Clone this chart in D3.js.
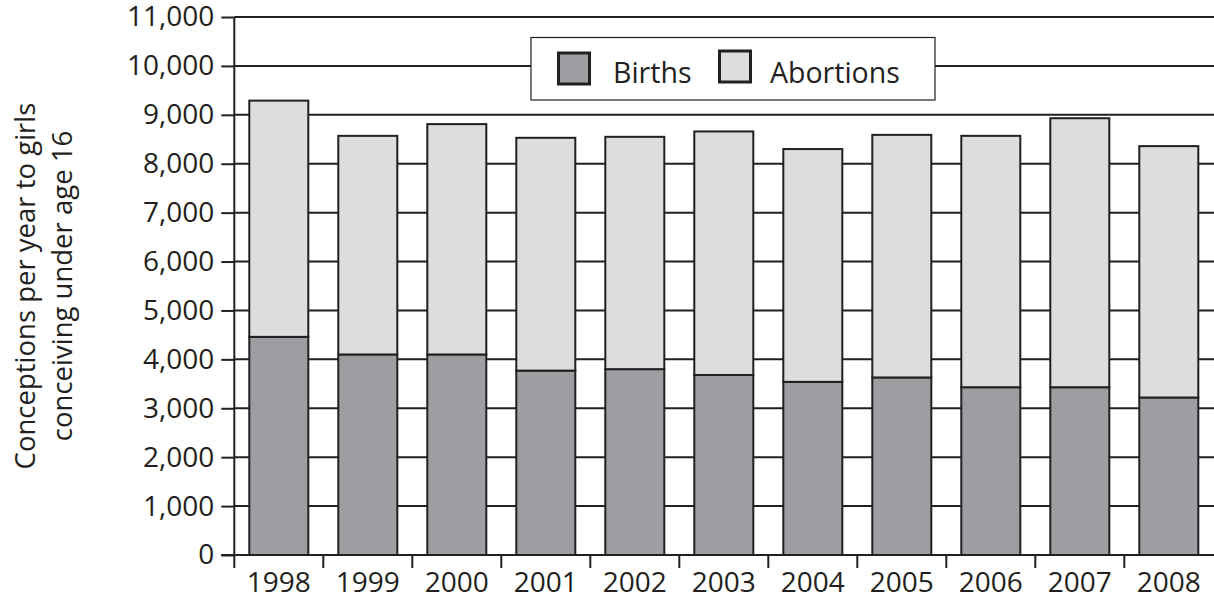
<!DOCTYPE html>
<html>
<head>
<meta charset="utf-8">
<script src="https://cdn.jsdelivr.net/npm/d3@7"></script>
<style>
  html, body { margin: 0; padding: 0; background: #fff; }
  svg { display: block; }
  text { font-family: "Open Sans", "Noto Sans", sans-serif; fill: #231f20; }
</style>
</head>
<body>
<svg id="chart" width="1214" height="598"></svg>
<script>
const years = ["1998","1999","2000","2001","2002","2003","2004","2005","2006","2007","2008"];
const births = [4460, 4100, 4100, 3770, 3800, 3680, 3540, 3630, 3430, 3430, 3220];
const abortions = [4830, 4470, 4710, 4760, 4750, 4980, 4760, 4960, 5140, 5500, 5140];
const yTicks = [0,1000,2000,3000,4000,5000,6000,7000,8000,9000,10000,11000];
const seriesNames = ["Births", "Abortions"];
const seriesColors = ["#9d9ea2", "#dcdddf"];
const yTitle = ["Conceptions per year to girls", "conceiving under age 16"];

(function () {
const ink = "#231f20";
const svg = d3.select("#chart");
const pLeft = 234.3, pRight = 1213.3, pTop = 17, pBottom = 555;

const x = d3.scaleBand().domain(years).range([pLeft, pRight])
  .paddingInner(0.337).paddingOuter(0.1685);
const y = d3.scaleLinear().domain([0, 11000]).range([pBottom, pTop]);

// gridlines (behind bars)
svg.append("g").selectAll("line").data(yTicks.filter(d => d > 0)).join("line")
  .attr("x1", pLeft).attr("x2", 1214)
  .attr("y1", d => y(d)).attr("y2", d => y(d))
  .attr("stroke", ink).attr("stroke-width", 2);

// stacked bars
const data = years.map((yr, i) => ({ year: yr, Births: births[i], Abortions: abortions[i] }));
const stack = d3.stack().keys(seriesNames)(data);
const gBars = svg.append("g");
stack.forEach((layer, li) => {
  gBars.append("g").selectAll("rect").data(layer).join("rect")
    .attr("x", d => x(d.data.year))
    .attr("width", x.bandwidth())
    .attr("y", d => y(d[1]))
    .attr("height", d => y(d[0]) - y(d[1]))
    .attr("fill", seriesColors[li])
    .attr("stroke", ink).attr("stroke-width", 2);
});

// y axis
const yAxis = d3.axisLeft(y).tickValues(yTicks).tickSize(13).tickPadding(7)
  .tickFormat(d3.format(","));
const gy = svg.append("g").attr("transform", `translate(${pLeft},0)`).call(yAxis);
gy.select(".domain").remove();
gy.selectAll(".tick line").attr("stroke", ink).attr("stroke-width", 2);
gy.selectAll(".tick text").attr("font-size", 28).attr("fill", ink)
  .style("font-family", '"Open Sans", sans-serif');
svg.append("line").attr("x1", pLeft).attr("x2", pLeft).attr("y1", pTop).attr("y2", pBottom + 13)
  .attr("stroke", ink).attr("stroke-width", 2);

// x axis baseline
svg.append("line").attr("x1", pLeft - 13).attr("x2", 1214).attr("y1", pBottom).attr("y2", pBottom)
  .attr("stroke", ink).attr("stroke-width", 2);
// x ticks at band boundaries
const step = x.step();
svg.append("g").selectAll("line").data(years.slice(1)).join("line")
  .attr("x1", (d, i) => pLeft + (i + 1) * step).attr("x2", (d, i) => pLeft + (i + 1) * step)
  .attr("y1", pBottom).attr("y2", pBottom + 13)
  .attr("stroke", ink).attr("stroke-width", 2);
svg.append("g").selectAll("text").data(years).join("text")
  .attr("x", d => x(d) + x.bandwidth() / 2)
  .attr("y", 592)
  .attr("text-anchor", "middle")
  .attr("font-size", 28)
  .text(d => d);

// y title
const gt = svg.append("g").attr("transform", "translate(0,286) rotate(-90)");
gt.selectAll("text").data(yTitle).join("text")
  .attr("x", 0).attr("y", (d, i) => 35 + i * 37)
  .attr("text-anchor", "middle")
  .attr("font-size", 27.5)
  .text(d => d);

// legend
const lg = svg.append("g");
lg.append("rect").attr("x", 531).attr("y", 37.5).attr("width", 404).attr("height", 62.5)
  .attr("fill", "#fff").attr("stroke", ink).attr("stroke-width", 1.2);
const legendItems = [
  { name: seriesNames[0], color: seriesColors[0], sx: 558.5, sy: 53, tx: 613 },
  { name: seriesNames[1], color: seriesColors[1], sx: 719.5, sy: 51, tx: 770 }
];
legendItems.forEach(it => {
  lg.append("rect").attr("x", it.sx).attr("y", it.sy).attr("width", 31).attr("height", 31)
    .attr("fill", it.color).attr("stroke", ink).attr("stroke-width", 3);
  lg.append("text").attr("x", it.tx).attr("y", 82.5).attr("font-size", 28.5).text(it.name);
});
})();
</script>
</body>
</html>
